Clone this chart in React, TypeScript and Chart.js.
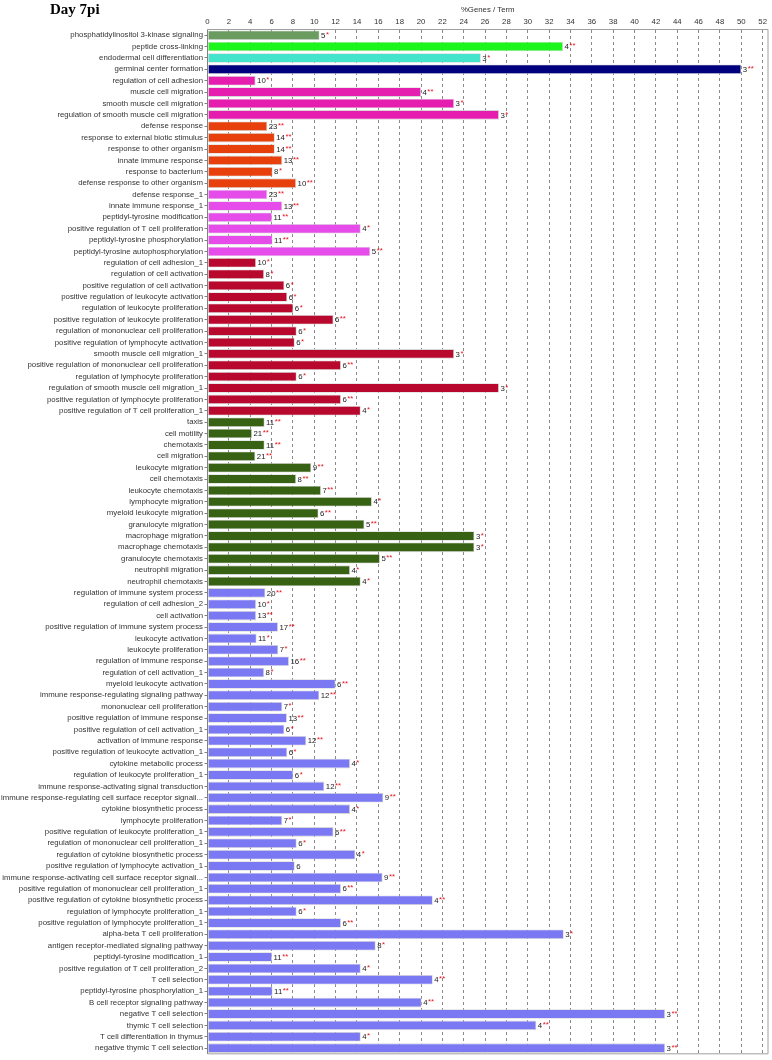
import React, { useEffect, useRef } from "react";
import { Chart, registerables } from "chart.js";
Chart.register(...registerables);

const categories = [
  "phosphatidylinositol 3-kinase signaling",
  "peptide cross-linking",
  "endodermal cell differentiation",
  "germinal center formation",
  "regulation of cell adhesion",
  "muscle cell migration",
  "smooth muscle cell migration",
  "regulation of smooth muscle cell migration",
  "defense response",
  "response to external biotic stimulus",
  "response to other organism",
  "innate immune response",
  "response to bacterium",
  "defense response to other organism",
  "defense response_1",
  "innate immune response_1",
  "peptidyl-tyrosine modification",
  "positive regulation of T cell proliferation",
  "peptidyl-tyrosine phosphorylation",
  "peptidyl-tyrosine autophosphorylation",
  "regulation of cell adhesion_1",
  "regulation of cell activation",
  "positive regulation of cell activation",
  "positive regulation of leukocyte activation",
  "regulation of leukocyte proliferation",
  "positive regulation of leukocyte proliferation",
  "regulation of mononuclear cell proliferation",
  "positive regulation of lymphocyte activation",
  "smooth muscle cell migration_1",
  "positive regulation of mononuclear cell proliferation",
  "regulation of lymphocyte proliferation",
  "regulation of smooth muscle cell migration_1",
  "positive regulation of lymphocyte proliferation",
  "positive regulation of T cell proliferation_1",
  "taxis",
  "cell motility",
  "chemotaxis",
  "cell migration",
  "leukocyte migration",
  "cell chemotaxis",
  "leukocyte chemotaxis",
  "lymphocyte migration",
  "myeloid leukocyte migration",
  "granulocyte migration",
  "macrophage migration",
  "macrophage chemotaxis",
  "granulocyte chemotaxis",
  "neutrophil migration",
  "neutrophil chemotaxis",
  "regulation of immune system process",
  "regulation of cell adhesion_2",
  "cell activation",
  "positive regulation of immune system process",
  "leukocyte activation",
  "leukocyte proliferation",
  "regulation of immune response",
  "regulation of cell activation_1",
  "myeloid leukocyte activation",
  "immune response-regulating signaling pathway",
  "mononuclear cell proliferation",
  "positive regulation of immune response",
  "positive regulation of cell activation_1",
  "activation of immune response",
  "positive regulation of leukocyte activation_1",
  "cytokine metabolic process",
  "regulation of leukocyte proliferation_1",
  "immune response-activating signal transduction",
  "immune response-regulating cell surface receptor signali...",
  "cytokine biosynthetic process",
  "lymphocyte proliferation",
  "positive regulation of leukocyte proliferation_1",
  "regulation of mononuclear cell proliferation_1",
  "regulation of cytokine biosynthetic process",
  "positive regulation of lymphocyte activation_1",
  "immune response-activating cell surface receptor signali...",
  "positive regulation of mononuclear cell proliferation_1",
  "positive regulation of cytokine biosynthetic process",
  "regulation of lymphocyte proliferation_1",
  "positive regulation of lymphocyte proliferation_1",
  "alpha-beta T cell proliferation",
  "antigen receptor-mediated signaling pathway",
  "peptidyl-tyrosine modification_1",
  "positive regulation of T cell proliferation_2",
  "T cell selection",
  "peptidyl-tyrosine phosphorylation_1",
  "B cell receptor signaling pathway",
  "negative T cell selection",
  "thymic T cell selection",
  "T cell differentiation in thymus",
  "negative thymic T cell selection",
];

const percentGenes = [
  10.5, 33.3, 25.6, 50.0, 4.5, 20.0, 23.1, 27.3,
  5.6, 6.3, 6.3, 7.0, 6.1, 8.3,
  5.6, 7.0, 6.05, 14.35, 6.1, 15.25,
  4.55, 5.3, 7.2, 7.47, 8.04, 11.8, 8.35, 8.17, 23.1, 12.5, 8.35, 27.3, 12.5, 14.35,
  5.35, 4.17, 5.35, 4.48, 9.72, 8.3, 10.63, 15.4, 10.4, 14.7, 25.0, 25.0, 16.15, 13.35, 14.35,
  5.42, 4.55, 4.55, 6.6, 4.6, 6.63, 7.63, 5.3, 12.0, 10.47, 7.0, 7.44, 7.2, 9.25, 7.47,
  13.35, 8.04, 10.94, 16.47, 13.35, 7.0, 11.8, 8.35, 13.85, 8.17, 16.4, 12.5, 21.1, 8.35,
  12.5, 33.37, 15.75, 6.05, 14.35, 21.1, 6.1, 20.06, 42.86, 30.8, 14.35, 42.86,
];

const geneCounts = [
  5, 4, 3, 3, 10, 4, 3, 3,
  23, 14, 14, 13, 8, 10,
  23, 13, 11, 4, 11, 5,
  10, 8, 6, 6, 6, 6, 6, 6, 3, 6, 6, 3, 6, 4,
  11, 21, 11, 21, 9, 8, 7, 4, 6, 5, 3, 3, 5, 4, 4,
  20, 10, 13, 17, 11, 7, 16, 8, 6, 12, 7, 13, 6, 12, 6,
  4, 6, 12, 9, 4, 7, 6, 6, 4, 6, 9, 6, 4, 6,
  6, 3, 8, 11, 4, 4, 11, 4, 3, 4, 4, 3,
];

const significance = [
  "*", "**", "*", "**", "*", "**", "*", "*",
  "**", "**", "**", "**", "*", "**",
  "**", "**", "**", "*", "**", "**",
  "*", "*", "*", "*", "*", "**", "*", "*", "*", "**", "*", "*", "**", "*",
  "**", "**", "**", "**", "**", "**", "**", "*", "**", "**", "*", "*", "**", "*", "*",
  "**", "*", "**", "**", "*", "*", "**", "*", "**", "**", "*", "**", "*", "**", "*",
  "*", "*", "**", "**", "*", "*", "**", "*", "*", "", "**", "**", "**", "*",
  "**", "*", "*", "**", "*", "**", "**", "**", "**", "**", "*", "**",
];

const groupColors = [
  "#6a9c60", "#1cf51c", "#44e3cc", "#00007f", "#e51eb0", "#e8400c",
  "#e54ce9", "#b8082e", "#386213", "#7b78f3",
];
const groupSizes = [1, 1, 1, 1, 4, 6, 6, 14, 15, 41];

const barColors: string[] = [];
groupSizes.forEach((n, gi) => {
  for (let i = 0; i < n; i++) barColors.push(groupColors[gi]);
});

const xTickMin = 0;
const xTickMax = 52.5;
const xTickStep = 2;

const LABEL_FONT = "'Liberation Sans', Arial, Helvetica, sans-serif";

export default function App() {
  const canvasRef = useRef<HTMLCanvasElement | null>(null);

  useEffect(() => {
    document.body.style.margin = "0";
    const canvas = canvasRef.current;
    if (!canvas) return;

    const decorPlugin = {
      id: "decor",
      beforeDraw(chart: any) {
        const ctx = chart.ctx;
        ctx.save();
        ctx.fillStyle = "#ffffff";
        ctx.fillRect(0, 0, chart.width, chart.height);
        ctx.restore();
      },
      afterDatasetsDraw(chart: any) {
        const ctx = chart.ctx;
        const meta = chart.getDatasetMeta(0);
        ctx.save();
        ctx.font = `7.8px ${LABEL_FONT}`;
        ctx.textBaseline = "middle";
        ctx.textAlign = "left";
        meta.data.forEach((bar: any, i: number) => {
          const txt = String(geneCounts[i]);
          const x = bar.x + 1.5;
          const y = bar.y + 0.5;
          ctx.fillStyle = "#222222";
          ctx.fillText(txt, x, y);
          const w = ctx.measureText(txt).width;
          if (significance[i]) {
            ctx.fillStyle = "#e8141e";
            ctx.fillText(significance[i], x + w + 0.5, y - 1);
          }
        });
        ctx.restore();
      },
      afterDraw(chart: any) {
        const ctx = chart.ctx;
        const a = chart.chartArea;
        ctx.save();
        // plot frame
        ctx.strokeStyle = "#a0a0a0";
        ctx.lineWidth = 1;
        ctx.beginPath();
        ctx.moveTo(a.left, a.top);
        ctx.lineTo(a.right, a.top);
        ctx.lineTo(a.right, a.bottom);
        ctx.lineTo(a.left, a.bottom);
        ctx.stroke();
        ctx.strokeStyle = "#808080";
        ctx.beginPath();
        ctx.moveTo(a.left, a.top);
        ctx.lineTo(a.left, a.bottom);
        ctx.stroke();
        // title
        ctx.fillStyle = "#000000";
        ctx.font = "bold 15px 'Liberation Serif', 'Times New Roman', serif";
        ctx.textAlign = "left";
        ctx.textBaseline = "alphabetic";
        ctx.fillText("Day 7pi", 50, 14);
        // axis title
        ctx.fillStyle = "#333333";
        ctx.font = `7.8px ${LABEL_FONT}`;
        ctx.textAlign = "center";
        ctx.textBaseline = "middle";
        ctx.fillText("%Genes / Term", (a.left + a.right) / 2, 10);
        ctx.restore();
      },
    };

    const chart = new Chart(canvas, {
      type: "bar",
      data: {
        labels: categories,
        datasets: [
          {
            data: percentGenes,
            backgroundColor: barColors,
            borderColor: "rgba(210,210,210,0.9)",
            borderWidth: 0.8,
            borderSkipped: false,
            barPercentage: 0.84,
            categoryPercentage: 1,
          },
        ],
      },
      options: {
        indexAxis: "y",
        animation: false,
        responsive: false,
        maintainAspectRatio: false,
        devicePixelRatio: 1,
        layout: { padding: { top: 0, right: 4, bottom: 2, left: 0 } },
        plugins: {
          legend: { display: false },
          tooltip: { enabled: false },
          title: { display: false },
        },
        scales: {
          x: {
            position: "top",
            min: xTickMin,
            max: xTickMax,
            afterFit: (scale: any) => {
              scale.height = 29.5;
            },
            ticks: {
              stepSize: xTickStep,
              includeBounds: false,
              color: "#333333",
              font: { family: LABEL_FONT, size: 7.8 },
              padding: 3,
              maxRotation: 0,
              autoSkip: false,
            },
            grid: {
              color: "#8a8a8a",
              lineWidth: 1,
              drawTicks: false,
            },
            border: { display: false, dash: [3, 3] },
          },
          y: {
            afterFit: (scale: any) => {
              scale.width = 207.5;
            },
            ticks: {
              autoSkip: false,
              color: "#333333",
              font: { family: LABEL_FONT, size: 7.8 },
              padding: 1.5,
            },
            grid: {
              drawOnChartArea: false,
              drawTicks: true,
              tickLength: 3,
              color: "#808080",
              offset: false,
            },
            border: { display: false },
          },
        },
      },
      plugins: [decorPlugin],
    } as any);

    return () => {
      chart.destroy();
    };
  }, []);

  return (
    <div style={{ width: 772, height: 1060 }}>
      <canvas ref={canvasRef} width={772} height={1060} style={{ display: "block" }} />
    </div>
  );
}
